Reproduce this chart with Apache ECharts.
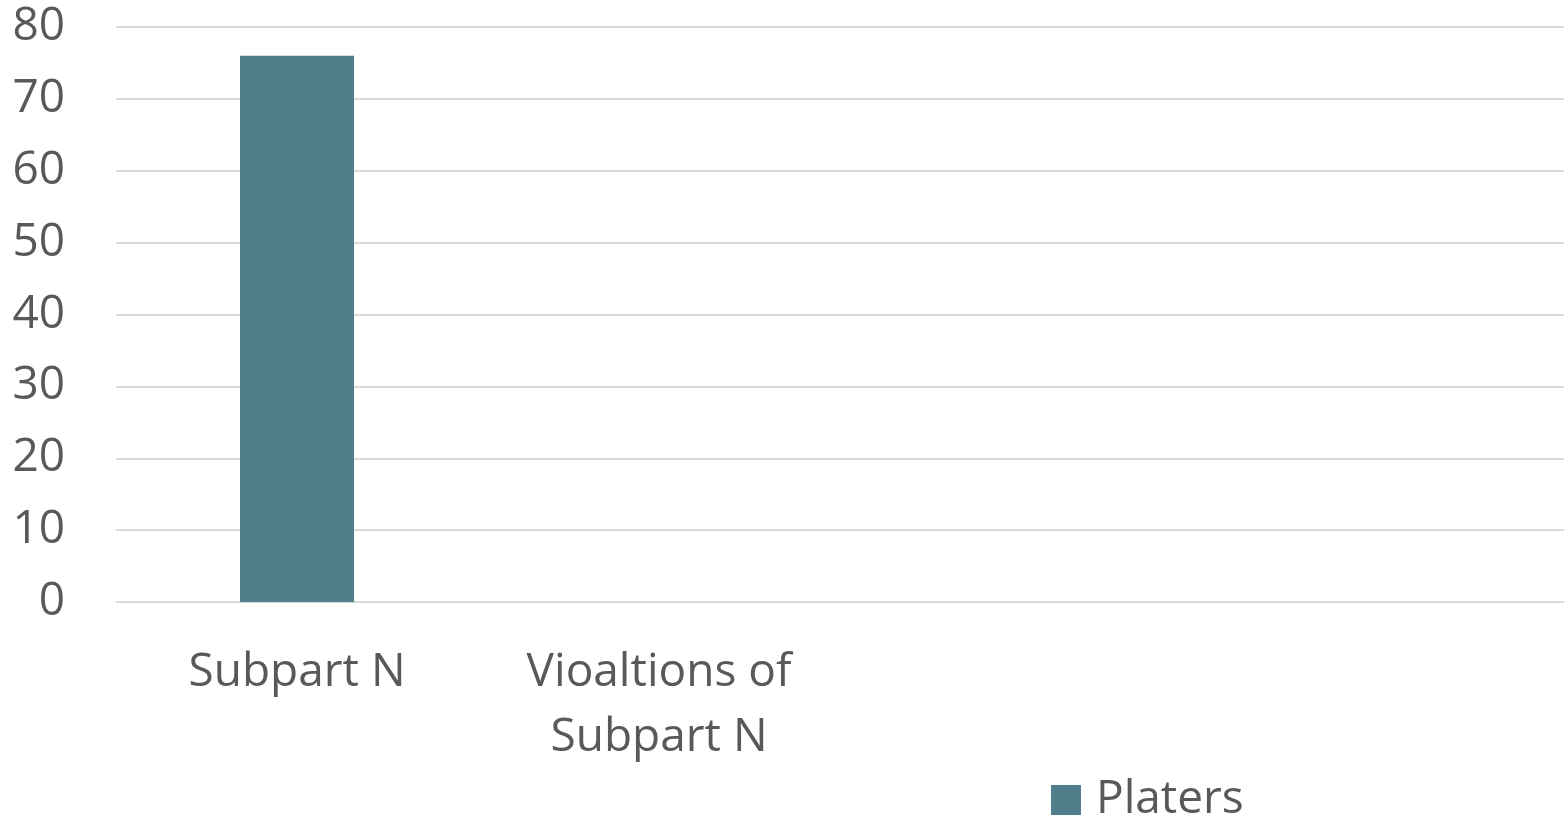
<!DOCTYPE html>
<html>
<head>
<meta charset="utf-8">
<script src="https://cdn.jsdelivr.net/npm/echarts@6/dist/echarts.min.js"></script>
<style>
  html, body { margin: 0; padding: 0; background: #fff; }
  #main { width: 1564px; height: 816px; }
</style>
</head>
<body>
<div id="main"></div>
<script>
// categories (the last two are blank in the source)
var categories = ['Subpart N', 'Vioaltions of\nSubpart N', '', ''];
var seriesName = 'Platers';
var platers = [76, null, null, null];
var yTicks = [0, 10, 20, 30, 40, 50, 60, 70, 80];

var textColor = '#595959';
var font = 'Open Sans';

var chart = echarts.init(document.getElementById('main'));
chart.setOption({
    animation: false,
    grid: { left: 116, right: 0, top: 27, bottom: 214 },
    legend: {
        data: [seriesName],
        left: 1046,
        top: 772,
        itemWidth: 30,
        itemHeight: 30,
        icon: 'rect',
        textStyle: { color: textColor, fontSize: 46, fontFamily: font, padding: [0, 0, 0, 10] }
    },
    xAxis: {
        type: 'category',
        data: categories,
        axisLine: { show: false },
        axisTick: { show: false },
        axisLabel: {
            interval: 0,
            color: textColor,
            fontSize: 46,
            fontFamily: font,
            lineHeight: 65,
            margin: 38,
            verticalAlign: 'top'
        }
    },
    yAxis: {
        type: 'value',
        min: yTicks[0],
        max: yTicks[yTicks.length - 1],
        interval: 10,
        axisLine: { show: false },
        axisTick: { show: false },
        axisLabel: { color: textColor, fontSize: 46, fontFamily: font, margin: 51, padding: [4, 0, 0, 0] },
        splitLine: { lineStyle: { color: '#d9d9d9', width: 2 } }
    },
    series: [{
        name: seriesName,
        type: 'bar',
        data: platers,
        barWidth: '31.5%',
        itemStyle: { color: '#507f8b' }
    }]
});
</script>
</body>
</html>
